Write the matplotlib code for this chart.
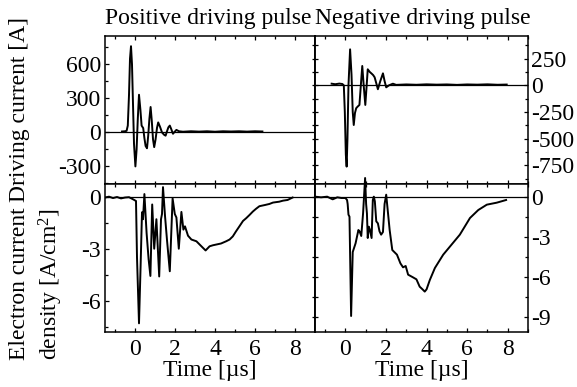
import matplotlib
matplotlib.use('Agg')
import matplotlib.pyplot as plt
from matplotlib.ticker import MultipleLocator, FixedLocator

plt.rcParams['font.family'] = ['Liberation Serif', 'DejaVu Serif']
plt.rcParams['mathtext.fontset'] = 'custom'
plt.rcParams['mathtext.rm'] = 'Liberation Serif'
plt.rcParams['mathtext.it'] = 'Liberation Serif:italic'
plt.rcParams['axes.unicode_minus'] = False

# ---------------- data ----------------
titles = ["Positive driving pulse", "Negative driving pulse"]
ylabel_top = "Driving current [A]"
ylabel_bot_1 = "Electron current"
ylabel_bot_2 = "density [A/cm$^2$]"
xlabel = "Time [\u00b5s]"

# top-left: driving current, positive pulse [A]
tl_t = [-0.65, -0.5, -0.42, -0.36, -0.3, -0.25, -0.2, -0.15, -0.1, -0.05, 0.02, 0.08,
        0.14, 0.2, 0.27, 0.33, 0.41, 0.47, 0.53, 0.6, 0.66, 0.72, 0.78, 0.84, 0.9, 0.96,
        1.03, 1.1, 1.16, 1.25, 1.35, 1.45, 1.53, 1.6, 1.67, 1.74, 1.81, 1.9, 1.98, 2.07,
        2.2, 2.4, 2.8, 3.2, 3.6, 4.0, 4.4, 4.8, 5.2, 5.6, 6.0, 6.37]
tl_i = [8, 10, 14, 60, 330, 650, 760, 600, 250, -100, -300, -150,
        120, 332, 200, 60, 38, -50, -120, -140, -30, 120, 224, 100, -60, -130,
        -60, 40, 88, 50, 0, -20, -29, 10, 45, 60, 30, -12, 5, 22,
        10, 6, 10, 7, 10, 6, 10, 8, 10, 7, 10, 8]

# top-right: driving current, negative pulse [A]
tr_t = [-0.68, -0.5, -0.3, -0.15, -0.08, -0.03, 0.02, 0.06, 0.1, 0.15, 0.23, 0.3,
        0.36, 0.41, 0.47, 0.53, 0.6, 0.69, 0.76, 0.83, 0.9, 0.98, 1.04, 1.1, 1.2,
        1.3, 1.37, 1.44, 1.52, 1.6, 1.72, 1.85, 1.93, 2.01, 2.15, 2.34, 2.5, 3.0,
        3.5, 4.0, 4.5, 5.0, 5.5, 6.0, 6.5, 7.0, 7.5, 7.95]
tr_i = [15, 10, 16, 12, 0, -250, -650, -762, -500, 0, 337, 100,
        -250, -372, -260, -215, -200, -184, 0, 181, 0, -184, -20, 150, 125,
        108, 95, 75, 20, -37, 40, 112, 40, -19, 0, 15, 4, 8,
        5, 9, 6, 8, 4, 8, 6, 9, 5, 7]

# bottom-left: electron current density, positive pulse [A/cm^2]
bl_t = [-1.5, -1.3, -1.1, -0.9, -0.7, -0.5, -0.3, -0.1, 0.05, 0.1, 0.2, 0.28,
        0.35, 0.4, 0.47, 0.58, 0.68, 0.77, 0.86, 0.96, 1.07, 1.21, 1.3, 1.35, 1.4,
        1.5, 1.6, 1.74, 1.88, 1.99, 2.07, 2.19, 2.32, 2.42, 2.5, 2.65, 2.82, 3.07,
        3.32, 3.53, 3.73, 3.9, 4.06, 4.3, 4.56, 4.73, 4.89, 5.05, 5.22, 5.4, 5.56,
        5.73, 5.89, 6.05, 6.22, 6.5, 6.72, 6.9, 7.21, 7.4, 7.63, 7.88]
bl_j = [-0.05, 0.0, -0.08, -0.02, -0.1, -0.05, -0.03, -0.15, -0.25, -3.5, -7.3, -4.0,
        -0.9, -1.3, 0.15, -2.1, -3.6, -4.57, -0.45, -3.0, -1.3, -4.6, -1.3, -1.0, 0.55,
        -1.1, -2.5, -4.3, -0.1, -1.0, -1.2, -3.0, -0.88, -1.9, -1.71, -2.25, -2.47, -2.57,
        -2.86, -3.1, -2.86, -2.8, -2.76, -2.7, -2.57, -2.47, -2.29, -2.0, -1.71, -1.4, -1.24,
        -1.05, -0.86, -0.7, -0.55, -0.48, -0.42, -0.34, -0.29, -0.23, -0.19, -0.05]

# bottom-right: electron current density, negative pulse [A/cm^2]
br_t = [-1.5, -1.2, -0.9, -0.63, -0.4, -0.2, 0.0, 0.08, 0.11, 0.15, 0.2, 0.28,
        0.36, 0.5, 0.64, 0.7, 0.78, 0.87, 0.97, 1.02, 1.06, 1.1, 1.15, 1.2, 1.29,
        1.35, 1.4, 1.45, 1.52, 1.6, 1.68, 1.76, 1.85, 1.93, 2.01, 2.09, 2.18, 2.31,
        2.54, 2.71, 2.84, 2.97, 3.09, 3.33, 3.5, 3.66, 3.8, 3.91, 4.0, 4.16, 4.41,
        4.82, 5.23, 5.64, 6.14, 6.55, 6.97, 7.46, 7.92]
br_j = [0.05, 0.0, 0.05, -0.15, 0.0, -0.05, -0.05, -0.2, -0.5, -1.3, -1.45, -8.9,
        -4.1, -3.45, -2.45, -2.56, -2.9, -1.2, 1.45, -0.5, -1.2, -3.05, -2.2, -2.4, -3.05,
        -0.2, 0.05, -0.3, -1.8, -1.95, -2.55, -2.8, -2.6, -0.5, 0.2, -1.05, -2.45, -3.95,
        -4.3, -4.95, -5.25, -5.15, -5.8, -6.0, -6.15, -6.7, -6.9, -7.07, -6.9, -6.2, -5.3,
        -4.3, -3.55, -2.8, -1.55, -0.95, -0.55, -0.4, -0.2]

tl_ticks = [-300, 0, 300, 600]
tr_ticks = [-750, -500, -250, 0, 250]
bl_ticks = [-6, -3, 0]
br_ticks = [-9, -6, -3, 0]
x_ticks = [0, 2, 4, 6, 8]

# ---------------- layout ----------------
W, H = 577, 387
FS = 17
fig = plt.figure(figsize=(W / 100, H / 100), dpi=100)


def frac(x0, y0, x1, y1):
    return [x0 / W, 1 - y1 / H, (x1 - x0) / W, (y1 - y0) / H]


ax_tl = fig.add_axes(frac(105, 36, 315, 184))
ax_tr = fig.add_axes(frac(315, 36, 528, 184))
ax_bl = fig.add_axes(frac(105, 184, 315, 332))
ax_br = fig.add_axes(frac(315, 184, 528, 332))

lw = 1.4
ax_tl.plot(tl_t, tl_i, color='black', lw=lw)
ax_tr.plot(tr_t, tr_i, color='black', lw=lw)
ax_bl.plot(bl_t, bl_j, color='black', lw=lw)
ax_br.plot(br_t, br_j, color='black', lw=lw, clip_on=False)

ax_tl.set_ylim(-455, 850)
ax_tr.set_ylim(-925, 462)
ax_bl.set_ylim(-7.8, 0.73)
ax_br.set_ylim(-10.1, 1.0)

for ax in (ax_tl, ax_tr, ax_bl, ax_br):
    ax.axhline(0, color='black', lw=0.9, zorder=1)
    ax.set_xlim(-1.5, 9)
    ax.xaxis.set_major_locator(FixedLocator(x_ticks))
    ax.xaxis.set_minor_locator(MultipleLocator(1))
    for s in ax.spines.values():
        s.set_linewidth(1.1)
    ax.tick_params(axis='x', which='both', direction='in', top=True, bottom=True,
                   labelsize=FS, pad=5, width=0.9)
    ax.tick_params(axis='x', which='major', length=3)
    ax.tick_params(axis='x', which='minor', length=2.5)

for ax in (ax_tl, ax_tr):
    ax.tick_params(axis='x', labelbottom=False)
for ax in (ax_bl, ax_br):
    ax.set_xlabel(xlabel, fontsize=FS, labelpad=0)

# left panels: y ticks on left, inward
for ax, ticks, minor in ((ax_tl, tl_ticks, 150), (ax_bl, bl_ticks, 1.5)):
    ax.yaxis.set_major_locator(FixedLocator(ticks))
    ax.yaxis.set_minor_locator(MultipleLocator(minor))
    ax.tick_params(axis='y', which='both', direction='in', left=True, right=False,
                   labelsize=FS, pad=3, width=0.9)
    ax.tick_params(axis='y', which='major', length=3)
    ax.tick_params(axis='y', which='minor', length=2.5)

# right panels: labels on right, extra crossing ticks on the left spine
for ax, ticks, minor in ((ax_tr, tr_ticks, 125), (ax_br, br_ticks, 1.5)):
    ax.yaxis.set_major_locator(FixedLocator(ticks))
    ax.yaxis.set_minor_locator(MultipleLocator(minor))
    ax.tick_params(axis='y', which='both', direction='in', left=False, right=True,
                   labelleft=False, labelright=True, labelsize=FS, pad=2, width=0.9)
    ax.tick_params(axis='y', which='major', length=3)
    ax.tick_params(axis='y', which='minor', length=2.5)
    sec = ax.secondary_yaxis('left')
    sec.yaxis.set_major_locator(FixedLocator(ticks))
    sec.yaxis.set_minor_locator(MultipleLocator(minor))
    sec.tick_params(axis='y', which='both', direction='inout', labelleft=False,
                    length=4, width=0.9)
    sec.spines['left'].set_linewidth(1.1)

# titles and y labels
fig.text(208 / W, 1 - 24 / H, titles[0], ha='center', va='baseline', fontsize=FS)
fig.text(423 / W, 1 - 24 / H, titles[1], ha='center', va='baseline', fontsize=FS)
fig.text(20 / W, 1 - 110 / H, ylabel_top, rotation=90, ha='center', va='center', fontsize=FS)
fig.text(20 / W, 1 - 284 / H, ylabel_bot_1, rotation=90, ha='center', va='center', fontsize=FS)
fig.text(51 / W, 1 - 284 / H, ylabel_bot_2, rotation=90, ha='center', va='center', fontsize=FS)

fig.savefig('out.png', dpi=100)
